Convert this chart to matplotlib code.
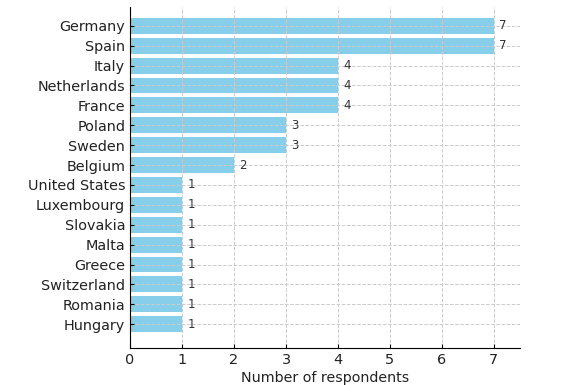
import matplotlib
matplotlib.use('Agg')
import matplotlib.pyplot as plt

countries = ['Germany', 'Spain', 'Italy', 'Netherlands', 'France', 'Poland',
             'Sweden', 'Belgium', 'United States', 'Luxembourg', 'Slovakia',
             'Malta', 'Greece', 'Switzerland', 'Romania', 'Hungary']
counts = [7, 7, 4, 4, 4, 3, 3, 2, 1, 1, 1, 1, 1, 1, 1, 1]

fig = plt.figure(figsize=(5.86, 3.85), dpi=100)
ax = fig.add_axes([0.222, 0.096, 0.665, 0.886])

ypos = list(range(len(countries)))[::-1]
ax.barh(ypos, counts, height=0.8, color='#87CEEB')
for y, v in zip(ypos, counts):
    ax.text(v + 0.1, y, str(v), va='center', ha='left', fontsize=8.5, color='#333333')

ax.set_yticks(ypos)
ax.set_yticklabels(countries, fontsize=10.4, color='#222222')
ax.set_xticks(range(8))
ax.tick_params(axis='x', labelsize=10.4, labelcolor='#222222')
ax.tick_params(direction='in', length=3)
ax.set_xlim(0, 7.5)
ax.set_ylim(-1.2, 15.95)
ax.set_xlabel('Number of respondents', fontsize=10.3, color='#222222', labelpad=3)
ax.grid(True, linestyle='--', color='#cccccc', linewidth=0.7)
for s in ['top', 'right']:
    ax.spines[s].set_visible(False)

fig.savefig('out.png', dpi=100)
